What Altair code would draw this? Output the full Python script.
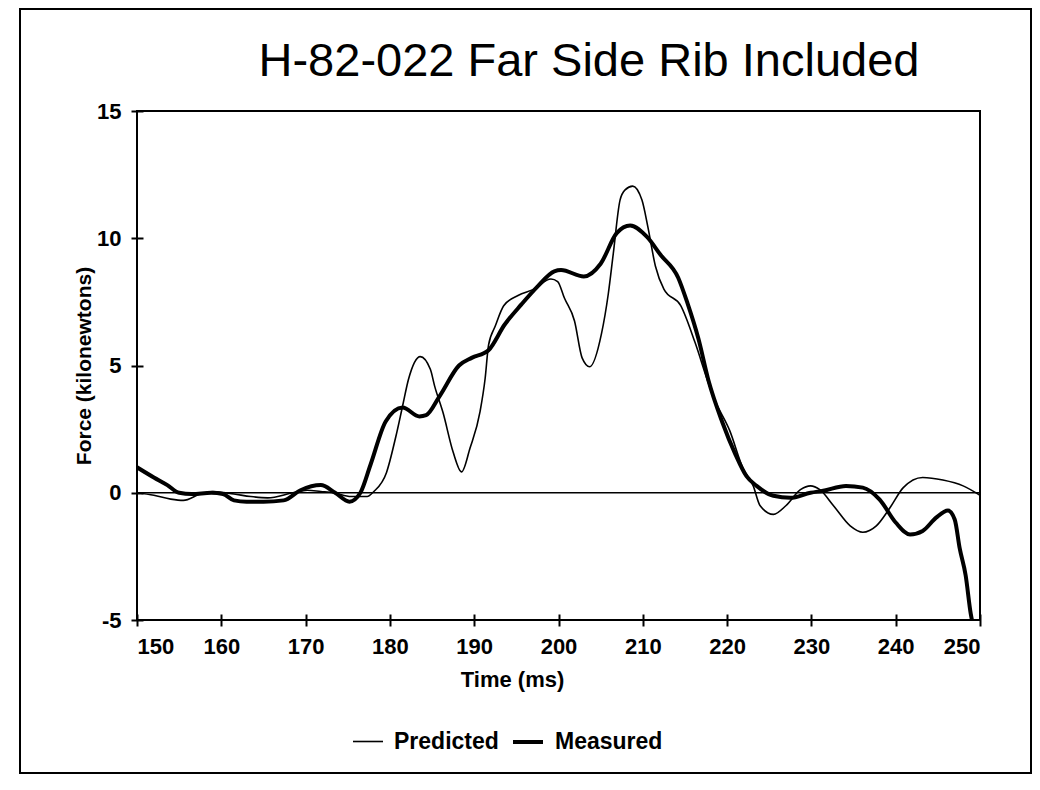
import altair as alt
import pandas as pd

# ---- data ----
chart_title = "H-82-022 Far Side Rib Included"

t_pred = [150, 152, 154, 155.5, 157.5, 159, 161.5, 163.5, 165.5, 168.5,
          170.2, 171.8, 173.3, 175.4, 177.3, 178.1, 179.6, 180.7, 181.5, 182.2,
          183.6, 184.8, 185.3, 186.3, 187.5, 188.5, 189.5, 190.7, 191.3, 191.7,
          192.5, 193.5, 195.2, 197.1, 199.1, 199.9, 200.7, 201.9, 202.8, 203.7,
          205.1, 205.9, 206.5, 207.3, 207.9, 208.8, 209.9, 210.6, 211.5, 212.5,
          214.5, 216.2, 217.9, 218.6, 220.3, 221.9, 223.1, 223.9, 225.5, 227,
          228.7, 229.9, 231, 232.6, 234.6, 236.1, 237.7, 239.3, 240.9, 243.2,
          245.6, 248, 250]
f_pred = [0.0, -0.1, -0.25, -0.3, -0.05, 0.05, -0.05, -0.15, -0.2, 0.0,
          0.1, 0.05, 0.0, -0.15, -0.15, 0.05, 0.8, 2.2, 3.4, 4.45,
          5.35, 4.85, 4.2, 3.15, 1.6, 0.82, 1.75, 3.2, 4.5, 5.8,
          6.55, 7.35, 7.75, 8.0, 8.4, 8.3, 7.65, 6.75, 5.3, 4.95,
          6.25, 7.8, 9.4, 11.5, 11.9, 12.05, 11.5, 10.45, 8.9, 8.0,
          7.35, 5.9, 4.2, 3.6, 2.45, 0.95, 0.27, -0.5, -0.85, -0.5,
          0.12, 0.27, 0.12, -0.5, -1.3, -1.55, -1.3, -0.6, 0.2, 0.6,
          0.5, 0.27, -0.1]

t_meas = [150, 152, 153.6, 155, 156.5, 158.8, 160.2, 161.5, 163, 165,
          167.4, 169.4, 171.8, 173.5, 175.2, 176.5, 177.7, 179.5, 181.5, 183.5,
          184.3, 185.9, 188.2, 189.7, 191.7, 193.6, 195.6, 197.5, 199.5, 200.3,
          203.0, 205.0, 206.9, 208.5, 210.5, 212.1, 214.2, 215.3, 216.6, 217.8,
          219.4, 221.0, 222.3, 223.5, 225.5, 227.5, 229.9, 231.4, 234.1, 236.1,
          238.1, 240, 241.7, 243.2, 244.8, 246.2, 247, 247.6, 248.3, 248.9,
          249.5]
f_meas = [1.0, 0.6, 0.3, 0.0, -0.05, 0.0, -0.05, -0.3, -0.35, -0.35,
          -0.3, 0.1, 0.3, 0.0, -0.35, 0.0, 1.1, 2.8, 3.35, 3.0,
          3.05, 3.8, 5.0, 5.3, 5.6, 6.6, 7.4, 8.1, 8.7, 8.75,
          8.5, 9.0, 10.2, 10.5, 10.05, 9.35, 8.45, 7.45, 6.05, 4.4,
          2.8, 1.5, 0.65, 0.27, -0.12, -0.2, 0.0, 0.08, 0.27, 0.2,
          -0.27, -1.17, -1.64, -1.5, -0.98, -0.7, -1.05, -2.2, -3.25, -4.75,
          -5.6]

series_names = ["Predicted", "Measured"]
x_ticks = [150, 160, 170, 180, 190, 200, 210, 220, 230, 240, 250]
y_ticks = [-5, 0, 5, 10, 15]

df = pd.concat([
    pd.DataFrame({"time": t_pred, "force": f_pred, "series": "Predicted", "order": range(len(t_pred))}),
    pd.DataFrame({"time": t_meas, "force": f_meas, "series": "Measured", "order": range(len(t_meas))}),
])
zero_df = pd.DataFrame({"force": [0]})
title_df = pd.DataFrame({"label": [chart_title]})

FONT = "Liberation Sans"
W, H = 843, 509

x_enc = alt.X("time:Q",
              scale=alt.Scale(domain=[150, 250], nice=False, zero=False),
              axis=alt.Axis(values=x_ticks, title="Time (ms)", grid=False, domain=False,
                            offset=-6, tickSize=12, tickWidth=2, tickColor="black",
                            labelFontSize=22, labelFontWeight="bold", labelFont=FONT,
                            labelColor="black", labelPadding=10, labelExpr="'' + datum.value",
                            titleFontSize=22, titleFontWeight="bold", titleFont=FONT,
                            titleColor="black", titlePadding=12, titleX=375))
y_enc = alt.Y("force:Q",
              scale=alt.Scale(domain=[-5, 15], nice=False, zero=False),
              axis=alt.Axis(values=y_ticks, title="Force (kilonewtons)", grid=False, domain=False,
                            offset=-6, tickSize=12, tickWidth=2, tickColor="black",
                            labelFontSize=22, labelFontWeight="bold", labelFont=FONT,
                            labelColor="black", labelPadding=10, labelExpr="'' + datum.value",
                            titleFontSize=21, titleFontWeight="bold", titleFont=FONT,
                            titleColor="black", titlePadding=2))

zero_rule = alt.Chart(zero_df).mark_rule(color="black", strokeWidth=1.6).encode(
    y=alt.Y("force:Q", scale=alt.Scale(domain=[-5, 15], nice=False, zero=False))
)

lines = alt.Chart(df).mark_line(color="black", interpolate="monotone", clip=True).encode(
    x=x_enc,
    y=y_enc,
    detail="series:N",
    order="order:Q",
    strokeWidth=alt.StrokeWidth(
        "series:N", title=None,
        scale=alt.Scale(domain=series_names, range=[1.6, 4.0]),
        legend=alt.Legend(orient="none", legendX=215, legendY=614, direction="horizontal",
                          symbolType="stroke", symbolSize=900, symbolStrokeColor="black",
                          labelFontSize=23, labelFontWeight="bold", labelFont=FONT,
                          labelColor="black", labelOffset=10, columnPadding=6),
    ),
)

frame = alt.Chart(zero_df).mark_rect(fill=None, stroke="black", strokeWidth=2).encode(
    x=alt.value(-117), x2=alt.value(894), y=alt.value(-102), y2=alt.value(662)
)

title_text = alt.Chart(title_df).mark_text(
    font=FONT, fontSize=47, color="black", align="center", baseline="alphabetic"
).encode(text="label:N", x=alt.value(452), y=alt.value(-35))

chart = alt.layer(frame, zero_rule, lines, title_text).properties(
    width=W, height=H,
    autosize=alt.AutoSizeParams(type="none"),
    padding={"left": 129, "top": 103, "right": 52, "bottom": 160},
).configure(background="white").configure_view(stroke="black", strokeWidth=2)

chart.save("out.html", embed_options={"renderer": "svg", "actions": False})
